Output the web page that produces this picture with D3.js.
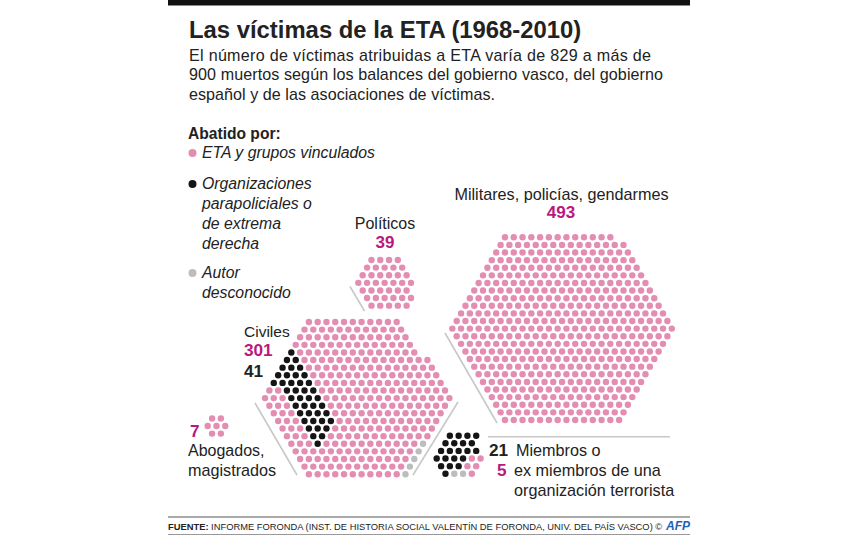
<!DOCTYPE html>
<html lang="es">
<head>
<meta charset="utf-8">
<title>Las víctimas de la ETA (1968-2010)</title>
<script src="https://cdn.jsdelivr.net/npm/d3@7/dist/d3.min.js"></script>
<style>
html,body{margin:0;padding:0;background:#fff}
svg{display:block}
text{font-family:"Liberation Sans",Arial,sans-serif;fill:#222}
</style>
</head>
<body>
<svg id="c" width="857" height="536"></svg>
<script>
// ---- DATA -------------------------------------------------------------
// Each row of a cluster is read left to right: p = ETA, k = parapolicial, g = unknown
const militaresRows = ["13p","15p","16p","17p","18p","19p","20p","21p","22p","23p","24p","25p","26p",
  "25p","24p","23p","22p","21p","20p","19p","18p","17p","16p","15p","14p"];
const politicosRows = ["4p","5p","6p","7p","6p","6p","5p"];
const civilesRows = ["11p","12p","13p","14p","1k14p","2k15p","3k15p","4k15p","5k15p","2p4k15p","3p4k15p",
  "3p4k14p","3p4k13p","3p4k12p","3p3k12p","3p2k12p","3p1k11p1g","14p1g","13p1g","12p1g","11p1g"];
const abogadosRows = ["2p","3p","2p"];
const miembrosRows = ["4k","4k","5k","4k2p","3k2p","1k2g1p"];

const titleText = "Las víctimas de la ETA (1968-2010)";
const introLines = ["El número de víctimas atribuidas a ETA varía de 829 a más de",
  "900 muertos según los balances del gobierno vasco, del gobierno",
  "español y de las asociaciones de víctimas."];
const legendHead = "Abatido por:";
const legendKeys = ["p","k","g"];
const legendLabels = [["ETA y grupos vinculados"],
  ["Organizaciones","parapoliciales o","de extrema","derecha"],
  ["Autor","desconocido"]];
const sourceBold = "FUENTE:";
const sourceRest = " INFORME FORONDA (INST. DE HISTORIA SOCIAL VALENTÍN DE FORONDA, UNIV. DEL PAÍS VASCO) ©";

// ---- STYLE / LAYOUT ----------------------------------------------------
const colors = {p:"#e38db3", k:"#151515", g:"#bdbdbd"};
const magenta = "#b8197f";
const stepX = 4.39, stepY = 7.61, dotR = 3.2;
const introWidths = [462,474,306];

// origin = pixel of the leftmost dot in the widest row; widest = index of that row
const clusters = [
  {rows:militaresRows, widest:12, x0:452.3, y0:237.3},
  {rows:politicosRows, widest:3,  x0:358.3, y0:260},
  {rows:civilesRows,   widest:10, x0:265,   y0:322},
  {rows:abogadosRows,  widest:1,  x0:207.7, y0:418.4},
  {rows:miembrosRows,  widest:3,  x0:436.7, y0:435.7}
];

function parseRow(s){
  const out=[];
  for(const m of s.matchAll(/(\d+)([pkg])/g)) for(let i=0;i<+m[1];i++) out.push(m[2]);
  return out;
}

const svg = d3.select("#c");

// ---- dots --------------------------------------------------------------
clusters.forEach(c=>{
  const x = d3.scaleLinear().domain([0,1]).range([c.x0,c.x0+stepX]);
  const y = d3.scaleLinear().domain([0,1]).range([c.y0,c.y0+stepY]);
  const dots = c.rows.flatMap((r,ri)=>parseRow(r).map((k,ci)=>({k,ci,ri,half:Math.abs(ri-c.widest)+ci*2})));
  svg.append("g").selectAll("circle").data(dots).join("circle")
    .attr("cx",d=>x(d.half)).attr("cy",d=>y(d.ri)).attr("r",dotR).attr("fill",d=>colors[d.k]);
});

// ---- chrome ------------------------------------------------------------
svg.append("rect").attr("x",168).attr("y",0).attr("width",522).attr("height",5.5).attr("fill","#111");

function t(x,y,s,o={}){
  const e=svg.append("text").attr("x",x).attr("y",y).text(s)
    .attr("font-size",o.size||16.2).attr("font-weight",o.bold?"bold":"normal")
    .attr("font-style",o.italic?"italic":"normal").attr("text-anchor",o.anchor||"start");
  if(o.fill) e.style("fill",o.fill);
  if(o.len) e.attr("textLength",o.len).attr("lengthAdjust","spacing");
  return e;
}

t(189,38,titleText,{size:23.85,bold:true});
introLines.forEach((l,i)=>t(189,60.5+i*19.6,l,{size:16.1,len:introWidths[i]}));

t(188,139,legendHead,{size:15.6,bold:true});
const legendBase=[158,189,278];
legendKeys.forEach((k,i)=>{
  svg.append("circle").attr("cx",192.5).attr("cy",legendBase[i]-5).attr("r",4).attr("fill",colors[k]);
  legendLabels[i].forEach((l,j)=>t(202,legendBase[i]+j*20,l,{size:15.8,italic:true}));
});

t(561.5,199.5,"Militares, policías, gendarmes",{anchor:"middle"});
t(561,218,"493",{anchor:"middle",bold:true,fill:magenta,size:17});
t(385,228.5,"Políticos",{anchor:"middle",size:16});
t(385,248,"39",{anchor:"middle",bold:true,fill:magenta,size:17});
t(244,337,"Civiles",{size:15.5});
t(244,356,"301",{bold:true,fill:magenta,size:17.2});
t(244,376.5,"41",{bold:true,size:17.2});
t(190,436.5,"7",{bold:true,fill:magenta,size:17.2});
t(188,456,"Abogados,",{size:16});
t(188,476,"magistrados");
t(489,456,"21",{bold:true,size:17.2});
t(497,476,"5",{bold:true,fill:magenta,size:17.2});
t(516,456,"Miembros o");
t(514,476,"ex miembros de una");
t(514,496,"organización terrorista");

// ---- separators --------------------------------------------------------
const seps=[[445,333,497,423],[458,402,413,475],[350,286.5,364.5,311],[255,403,297,475],[488,436.8,670,436.8]];
svg.append("g").selectAll("line").data(seps).join("line")
  .attr("x1",d=>d[0]).attr("y1",d=>d[1]).attr("x2",d=>d[2]).attr("y2",d=>d[3])
  .attr("stroke","#c8c8c8").attr("stroke-width",1.6);

// ---- footer ------------------------------------------------------------
svg.append("line").attr("x1",168).attr("x2",690).attr("y1",517).attr("y2",517).attr("stroke","#aaa").attr("stroke-width",2);
svg.append("line").attr("x1",168).attr("x2",690).attr("y1",534.5).attr("y2",534.5).attr("stroke","#999").attr("stroke-width",1);
const src=svg.append("text").attr("x",168).attr("y",530).attr("font-size",9.36);
src.append("tspan").attr("font-weight","bold").text(sourceBold);
src.append("tspan").text(sourceRest);
t(666,530,"AFP",{size:12,bold:true,italic:true,fill:"#1c63b8"});
</script>
</body>
</html>
